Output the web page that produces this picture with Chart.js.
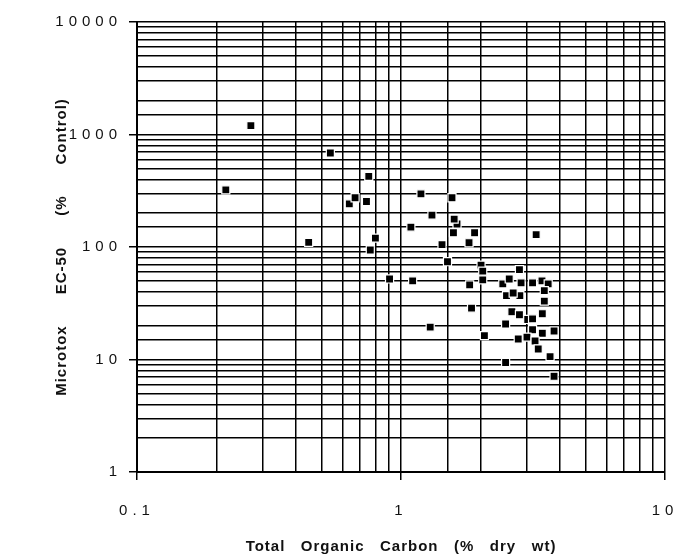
<!DOCTYPE html>
<html>
<head>
<meta charset="utf-8">
<script src="https://cdn.jsdelivr.net/npm/chart.js@4"></script>
<style>
  html, body { margin: 0; padding: 0; background: #fff; }
  #wrap { width: 678px; height: 558px; }
</style>
</head>
<body>
<div id="wrap"><canvas id="toc"></canvas></div>
<script>
// Total organic carbon (% dry wt) for each sediment sample
const tocValues = [
  0.27, 0.54, 0.755, 0.217, 0.637, 0.67, 0.74, 0.447, 0.80, 0.765,
  0.905, 1.09, 1.19, 1.56, 1.31, 1.63, 1.59, 1.58, 1.90, 3.25,
  1.43, 1.81, 1.50, 2.01, 2.04, 2.04, 1.107, 1.82, 1.85, 1.29,
  2.81, 2.43, 2.57, 2.85, 3.15, 3.42, 3.61, 3.49, 2.51, 2.82,
  2.66, 3.49, 2.63, 2.81, 3.02, 3.15, 3.43, 2.49, 2.07, 3.15,
  3.43, 3.80, 2.78, 3.0, 3.22, 3.31, 3.67, 2.49, 3.80
];
// Microtox EC-50 (% control) for the same samples
const ec50Values = [
  1200, 685, 425, 322, 242, 274, 254, 110, 120, 94,
  52, 150, 297, 274, 192, 160, 177, 134, 134, 129,
  105, 109, 74, 69, 51, 61, 50, 46, 28.6, 19.4,
  63, 47, 52, 48, 48, 50, 47, 41, 37, 37,
  39, 33, 26.6, 25, 22.7, 23, 25.5, 20.7, 16.3, 18.4,
  17.1, 17.9, 15.2, 15.8, 14.6, 12.4, 10.6, 9.4, 7.1
];
const xTickLabels = ['0.1', '1', '10'];
const yTickLabels = ['1', '10', '100', '1000', '10000'];

const points = tocValues.map((x, i) => ({ x: x, y: ec50Values[i] }));

function isDecade(v) {
  const l = Math.log10(v);
  return Math.abs(l - Math.round(l)) < 1e-6;
}
function decadeLabel(v, list) {
  if (!isDecade(v)) return '';
  const s = String(Number(v.toPrecision(6)));
  return list.includes(s) ? s : '';
}

// tick labels are drawn after the datasets, so widen their letters there only
const spacing = {
  id: 'spacing',
  beforeDraw(chart) { chart.ctx.letterSpacing = '1px'; },
  afterDatasetsDraw(chart) { chart.ctx.letterSpacing = '5px'; },
  afterDraw(chart) { chart.ctx.letterSpacing = '0px'; }
};

const gridStyle = {
  color: '#000',
  lineWidth: 1.5,
  tickLength: 8,
  tickWidth: 1.5,
  tickColor: ctx => (ctx.tick && isDecade(ctx.tick.value)) ? '#000' : 'rgba(0,0,0,0)'
};

const fontFamily = '"Liberation Sans", Arial, sans-serif';

new Chart(document.getElementById('toc'), {
  type: 'scatter',
  data: {
    datasets: [{
      data: points,
      pointStyle: 'rect',
      pointRadius: 5.7,
      backgroundColor: '#000',
      borderColor: '#fff',
      borderWidth: 1.2
    }]
  },
  plugins: [spacing],
  options: {
    responsive: true,
    maintainAspectRatio: false,
    animation: false,
    layout: { padding: { left: 0, right: 13, top: 22, bottom: 0 } },
    plugins: { legend: { display: false }, tooltip: { enabled: false } },
    scales: {
      x: {
        type: 'logarithmic',
        min: 0.1,
        max: 10,
        afterFit: s => { s.height = 86; s.paddingLeft = 0; s.paddingRight = 0; },
        grid: gridStyle,
        border: { color: '#000', width: 2 },
        ticks: {
          autoSkip: false,
          maxRotation: 0,
          padding: 22,
          z: 1,
          color: '#111',
          font: { family: fontFamily, size: 15 },
          callback: v => decadeLabel(v, xTickLabels)
        },
        title: {
          display: true,
          text: 'Total   Organic   Carbon   (%   dry   wt)',
          color: '#111',
          font: { family: fontFamily, size: 15, weight: 'bold' },
          padding: { top: 0, bottom: 2 }
        }
      },
      y: {
        type: 'logarithmic',
        min: 1,
        max: 10000,
        afterFit: s => { s.width = 137; s.paddingTop = 0; s.paddingBottom = 0; },
        grid: gridStyle,
        border: { color: '#000', width: 2 },
        ticks: {
          autoSkip: false,
          padding: 7,
          z: 1,
          color: '#111',
          font: { family: fontFamily, size: 15 },
          callback: v => decadeLabel(v, yTickLabels)
        },
        title: {
          display: true,
          text: 'Microtox      EC-50      (%      Control)',
          color: '#111',
          font: { family: fontFamily, size: 15, weight: 'bold' },
          padding: { top: 53, bottom: 0 }
        }
      }
    }
  }
});
</script>
</body>
</html>
